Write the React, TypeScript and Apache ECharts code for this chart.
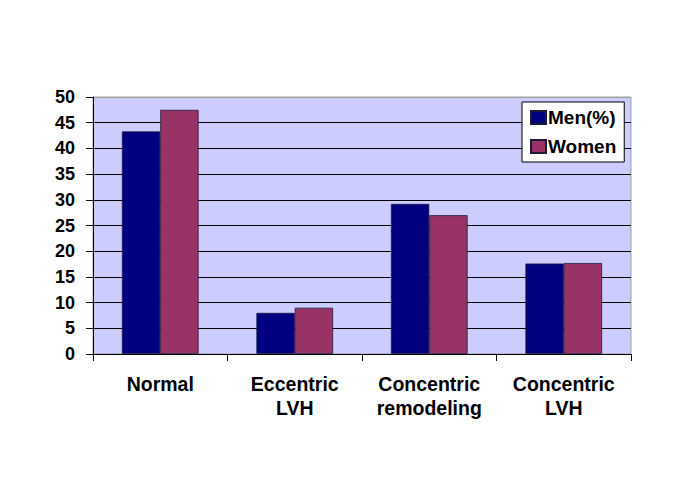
import React, { useEffect, useRef } from "react";
import * as echarts from "echarts";

const categories = ["Normal", "Eccentric\nLVH", "Concentric\nremodeling", "Concentric\nLVH"];
const menValues = [43.3, 8.0, 29.2, 17.6];
const womenValues = [47.5, 9.0, 27.0, 17.7];
const seriesNames = ["Men(%)", "Women"];

export default function App() {
  const ref = useRef<HTMLDivElement>(null);
  useEffect(() => {
    document.body.style.margin = "0";
    const chart = echarts.init(ref.current!, null, { renderer: "svg" });
    const font = "'Liberation Sans', Arial, sans-serif";
    const gridColors = ["#000", "#000", "#000", "#000", "#000", "#000", "#000", "#000", "#000", "#000", "#a0a0a0"];
    chart.setOption({
      animation: false,
      backgroundColor: "#ffffff",
      grid: { left: 93, top: 97, right: 54, bottom: 135, show: true, backgroundColor: "#ccccff", borderColor: "#a0a0a0", borderWidth: 1 },
      legend: {
        orient: "vertical",
        left: 522,
        top: 102,
        backgroundColor: "#ffffff",
        borderColor: "#000",
        borderWidth: 1,
        padding: [6, 8, 6, 8],
        itemGap: 10,
        itemWidth: 15,
        itemHeight: 13,
        icon: "rect",
        data: seriesNames,
        textStyle: { fontFamily: font, fontWeight: "bold", fontSize: 19, color: "#000", padding: [0, 0, 0, -3] },
      },
      xAxis: {
        type: "category",
        data: categories,
        axisLine: { lineStyle: { color: "#000", width: 1 } },
        axisTick: { show: true, length: 7, lineStyle: { color: "#000" } },
        axisLabel: { fontFamily: font, fontWeight: "bold", fontSize: 19.5, color: "#000", margin: 18, lineHeight: 24, interval: 0 },
      },
      yAxis: {
        type: "value",
        min: 0,
        max: 50,
        interval: 5,
        axisLine: { show: true, lineStyle: { color: "#000", width: 1 } },
        axisTick: { show: true, length: 7, lineStyle: { color: "#000" } },
        axisLabel: { fontFamily: font, fontWeight: "bold", fontSize: 18, color: "#000", margin: 18 },
        splitLine: { show: true, lineStyle: { color: gridColors, width: 1 } },
      },
      series: [
        {
          name: seriesNames[0],
          type: "bar",
          data: menValues,
          barGap: "0%",
          barCategoryGap: "43%",
          itemStyle: { color: "#000080", borderColor: "#1a1a3a", borderWidth: 0.8 },
        },
        {
          name: seriesNames[1],
          type: "bar",
          data: womenValues,
          barGap: "0%",
          barCategoryGap: "43%",
          itemStyle: { color: "#993366", borderColor: "#1a1a3a", borderWidth: 0.8 },
        },
      ],
    });
    return () => chart.dispose();
  }, []);
  return <div ref={ref} style={{ position: "absolute", left: 0, top: 0, width: 685, height: 489 }} />;
}
